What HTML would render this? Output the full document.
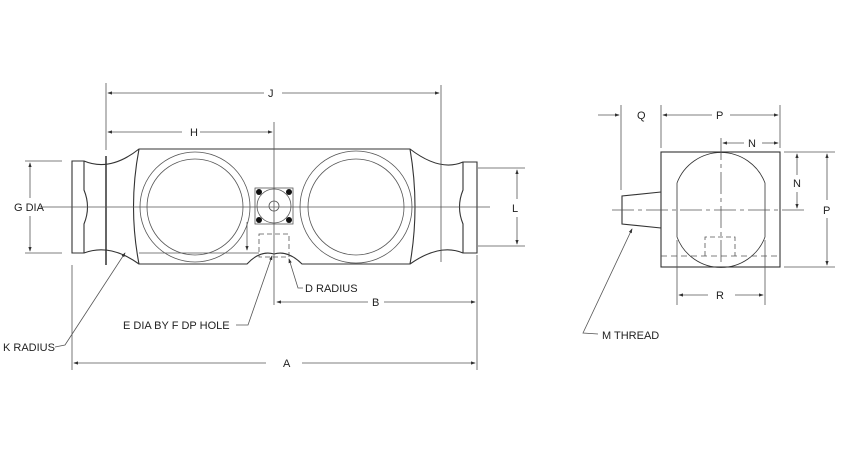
<!DOCTYPE html>
<html><head><style>html,body{margin:0;padding:0;background:#fff}svg{display:block}text{font-family:"Liberation Sans",sans-serif;font-size:11px;fill:#222}</style></head><body>
<svg width="841" height="454" viewBox="0 0 841 454" xmlns="http://www.w3.org/2000/svg">
<defs><marker id="a" markerWidth="6" markerHeight="6" refX="5" refY="3" orient="auto-start-reverse"><path d="M0,1 L6,3 L0,5 Z" fill="#333"/></marker></defs>
<g fill="none" stroke="#333" stroke-width="1.1">
<!-- left view body -->
<path d="M72,161 L84,161 Q110,172 139,149 L410,149 Q440,172 463,162 L477,162 L477,253 L463,253 Q440,243 410,264 L302,264 Q288,250 274,254 Q260,250 247,264 L139,264 Q110,243 84,253 L72,253 Z"/>
<path d="M139,149 Q128,207 139,264"/><path d="M410,149 Q420,207 410,264"/>
<path d="M84,161 L84,190 Q91,207 84,224 L84,253"/>
<path d="M463,162 L463,190 Q456,207 463,224 L463,253"/>
<line x1="106" y1="156" x2="106" y2="265" stroke-width="1.5"/>
</g>
<g fill="none" stroke="#555" stroke-width="0.8">
<circle cx="195" cy="207" r="55"/><circle cx="195" cy="207" r="48"/>
<circle cx="356" cy="207" r="56"/><circle cx="356" cy="207" r="48"/>
<rect x="255" y="188" width="38" height="36"/><circle cx="274" cy="206" r="17"/><circle cx="274" cy="206" r="5"/>
<rect x="259" y="234" width="30" height="23" stroke-dasharray="5,3"/>
<line x1="139" y1="253" x2="259" y2="253"/>
<line x1="40" y1="207" x2="490" y2="207"/>
<line x1="274" y1="122" x2="274" y2="305"/>
<!-- ext lines -->
<line x1="106" y1="83" x2="106" y2="150"/><line x1="441" y1="85" x2="441" y2="262"/>
<line x1="25" y1="161" x2="62" y2="161"/><line x1="25" y1="253" x2="62" y2="253"/>
<line x1="478" y1="168" x2="525" y2="168"/><line x1="478" y1="246" x2="525" y2="246"/>
<line x1="72" y1="265" x2="72" y2="370"/><line x1="477" y1="255" x2="477" y2="370"/>
<!-- leaders -->
<polyline points="55,347 65,345 125,253" marker-end="url(#a)"/>
<polyline points="236,325 248,325 272,256" marker-end="url(#a)"/>
<polyline points="303,288 298,288 289,259" marker-end="url(#a)"/>
<line x1="247" y1="222" x2="247" y2="250" marker-end="url(#a)"/>
</g>
<g fill="#111"><circle cx="259" cy="192" r="3"/><circle cx="289" cy="192" r="3"/><circle cx="259" cy="220" r="3"/><circle cx="289" cy="220" r="3"/></g>
<g stroke="#555" stroke-width="0.8" fill="none">
<line x1="108" y1="93" x2="264" y2="93" marker-start="url(#a)"/><line x1="282" y1="93" x2="439" y2="93" marker-end="url(#a)"/>
<line x1="108" y1="132" x2="182" y2="132" marker-start="url(#a)"/><line x1="200" y1="132" x2="272" y2="132" marker-end="url(#a)"/>
<line x1="30" y1="163" x2="30" y2="198" marker-start="url(#a)"/><line x1="30" y1="216" x2="30" y2="251" marker-end="url(#a)"/>
<line x1="517" y1="170" x2="517" y2="199" marker-start="url(#a)"/><line x1="517" y1="217" x2="517" y2="244" marker-end="url(#a)"/>
<line x1="277" y1="302" x2="368" y2="302" marker-start="url(#a)"/><line x1="384" y1="302" x2="475" y2="302" marker-end="url(#a)"/>
<line x1="74" y1="363" x2="266" y2="363" marker-start="url(#a)"/><line x1="302" y1="363" x2="475" y2="363" marker-end="url(#a)"/>
</g>
<text x="268" y="97">J</text><text x="190" y="136">H</text>
<text x="14" y="211">G DIA</text><text x="512" y="212">L</text>
<text x="372" y="306">B</text><text x="283" y="367">A</text>
<text x="305" y="292">D RADIUS</text>
<text x="123" y="329">E DIA BY F DP HOLE</text>
<text x="3" y="351">K RADIUS</text>
<!-- right view -->
<g fill="none" stroke="#333" stroke-width="1.1">
<rect x="661" y="152" width="119" height="115"/>
<path d="M661,192 L622,196 L622,224 L661,228"/>
<path d="M677,183 A47,47 0 0 1 765,183 L765,237 A47,47 0 0 1 677,237 Z" stroke-width="0.8"/>
</g>
<g fill="none" stroke="#555" stroke-width="0.8">
<line x1="661" y1="256" x2="780" y2="256" stroke-dasharray="6,4"/>
<polyline points="705,256 705,237 735,237 735,256" stroke-dasharray="5,3"/>
<line x1="612" y1="210" x2="805" y2="210" stroke-dasharray="22,4,4,4"/>
<line x1="721" y1="138" x2="721" y2="265" stroke-dasharray="22,4,4,4"/>
<line x1="621" y1="105" x2="621" y2="190"/><line x1="661" y1="105" x2="661" y2="148"/><line x1="780" y1="105" x2="780" y2="148"/>
<line x1="784" y1="152" x2="835" y2="152"/><line x1="784" y1="267" x2="835" y2="267"/>
<line x1="677" y1="240" x2="677" y2="305"/><line x1="765" y1="240" x2="765" y2="305"/>
<line x1="598" y1="115" x2="619" y2="115" marker-end="url(#a)"/>
<line x1="663" y1="115" x2="712" y2="115" marker-start="url(#a)"/><line x1="730" y1="115" x2="778" y2="115" marker-end="url(#a)"/>
<line x1="723" y1="143" x2="744" y2="143" marker-start="url(#a)"/><line x1="762" y1="143" x2="778" y2="143" marker-end="url(#a)"/>
<line x1="797" y1="154" x2="797" y2="175" marker-start="url(#a)"/><line x1="797" y1="192" x2="797" y2="208" marker-end="url(#a)"/>
<line x1="827" y1="154" x2="827" y2="200" marker-start="url(#a)"/><line x1="827" y1="218" x2="827" y2="265" marker-end="url(#a)"/>
<line x1="679" y1="295" x2="708" y2="295" marker-start="url(#a)"/><line x1="735" y1="295" x2="763" y2="295" marker-end="url(#a)"/>
<polyline points="598,334 583,333 632,229" marker-end="url(#a)"/>
</g>
<text x="637" y="119">Q</text><text x="716" y="119">P</text><text x="748" y="147">N</text>
<text x="793" y="187">N</text><text x="823" y="214">P</text><text x="716" y="299">R</text>
<text x="602" y="339">M THREAD</text>
</svg>
</body></html>
